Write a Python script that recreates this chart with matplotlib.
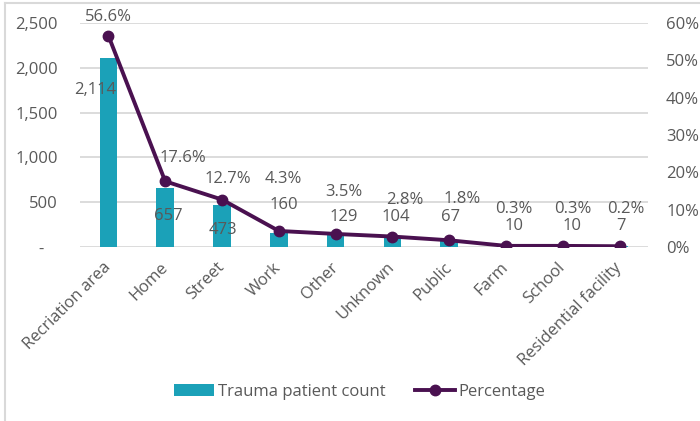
import matplotlib
matplotlib.use("Agg")
import matplotlib.pyplot as plt
from matplotlib.lines import Line2D
from matplotlib.ticker import FuncFormatter

plt.rcParams['font.family'] = ['Open Sans', 'DejaVu Sans']

# data
categories = ["Recriation area", "Home", "Street", "Work", "Other", "Unknown",
              "Public", "Farm", "School", "Residential facility"]
counts = [2114, 657, 473, 160, 129, 104, 67, 10, 10, 7]
percent = [56.6, 17.6, 12.7, 4.3, 3.5, 2.8, 1.8, 0.3, 0.3, 0.2]

# label offsets in pixels (dx, dy)
pct_off = [(0, 19), (18, 23), (6, 21), (5, 52), (8, 42), (12, 37), (13, 41), (8, 37), (10, 37), (6, 37)]
cnt_off = [(-13, -32), (3, -28), (1, -25), (5, 28), (8, 18), (3, 21), (1, 24), (8, 20), (9, 20), (1, 20)]

bar_c = "#1ba1b8"
line_c = "#4a1150"
txt_c = "#595959"
grid_c = "#d9d9d9"
fs = 12

fig = plt.figure(figsize=(7, 4.21), dpi=100)
ax = fig.add_axes([80/700, 1-247/421, 568/700, 224/421])
ax2 = ax.twinx()

x = range(len(categories))
ax.bar(x, counts, width=0.31, color=bar_c, label="Trauma patient count", zorder=2)
ax2.plot(x, [p/100 for p in percent], color=line_c, lw=2.8, marker="o", ms=7.5,
         label="Percentage", zorder=3)

ax.set_xlim(-0.5, len(categories)-0.5)
ax.set_ylim(0, 2500)
ax2.set_ylim(0, 0.6)
ax.set_yticks(range(0, 2501, 500))
ax2.set_yticks([i/10 for i in range(7)])
ax.yaxis.set_major_formatter(FuncFormatter(lambda v, p: "-   " if v == 0 else f"{int(v):,}"))
ax2.yaxis.set_major_formatter(FuncFormatter(lambda v, p: f"{v*100:.0f}%"))

ax.grid(axis="y", color=grid_c, lw=1.3, zorder=0)
ax.set_axisbelow(True)
for a in (ax, ax2):
    for s in a.spines.values():
        s.set_visible(False)
    a.tick_params(length=0, colors=txt_c, labelsize=fs)
ax.tick_params(axis="y", pad=16)
ax2.tick_params(axis="y", pad=13)
ax.set_xticks(list(x))
ax.set_xticklabels(categories, rotation=45, ha="right", va="center",
                   rotation_mode="anchor", color=txt_c, fontsize=fs)
ax.tick_params(axis="x", pad=13)

# data labels
for i in x:
    dx, dy = pct_off[i]
    ax2.annotate(f"{percent[i]}%", (i, percent[i]/100), xytext=(dx*0.72, dy*0.72),
                 textcoords="offset points", ha="center", va="center",
                 color=txt_c, fontsize=fs, zorder=5)
    dx, dy = cnt_off[i]
    ax.annotate(f"{counts[i]:,}", (i, counts[i]), xytext=(dx*0.72, dy*0.72),
                textcoords="offset points", ha="center", va="center",
                color=txt_c, fontsize=fs, zorder=5, annotation_clip=False)

h1, l1 = ax.get_legend_handles_labels()
h2, l2 = ax2.get_legend_handles_labels()
fig.legend(h1 + h2, l1 + l2, loc="center", bbox_to_anchor=(360/700, 1-392/421),
           ncol=2, frameon=False, fontsize=fs, labelcolor=txt_c,
           handlelength=2.4, handletextpad=0.2, columnspacing=1.8)

# outer border
fig.add_artist(Line2D([5/700, 5/700], [0, 1-3/421], color=grid_c, lw=1.5))
fig.add_artist(Line2D([5/700, 1], [1-3/421, 1-3/421], color=grid_c, lw=1.5))

fig.savefig("out.png", dpi=100)
